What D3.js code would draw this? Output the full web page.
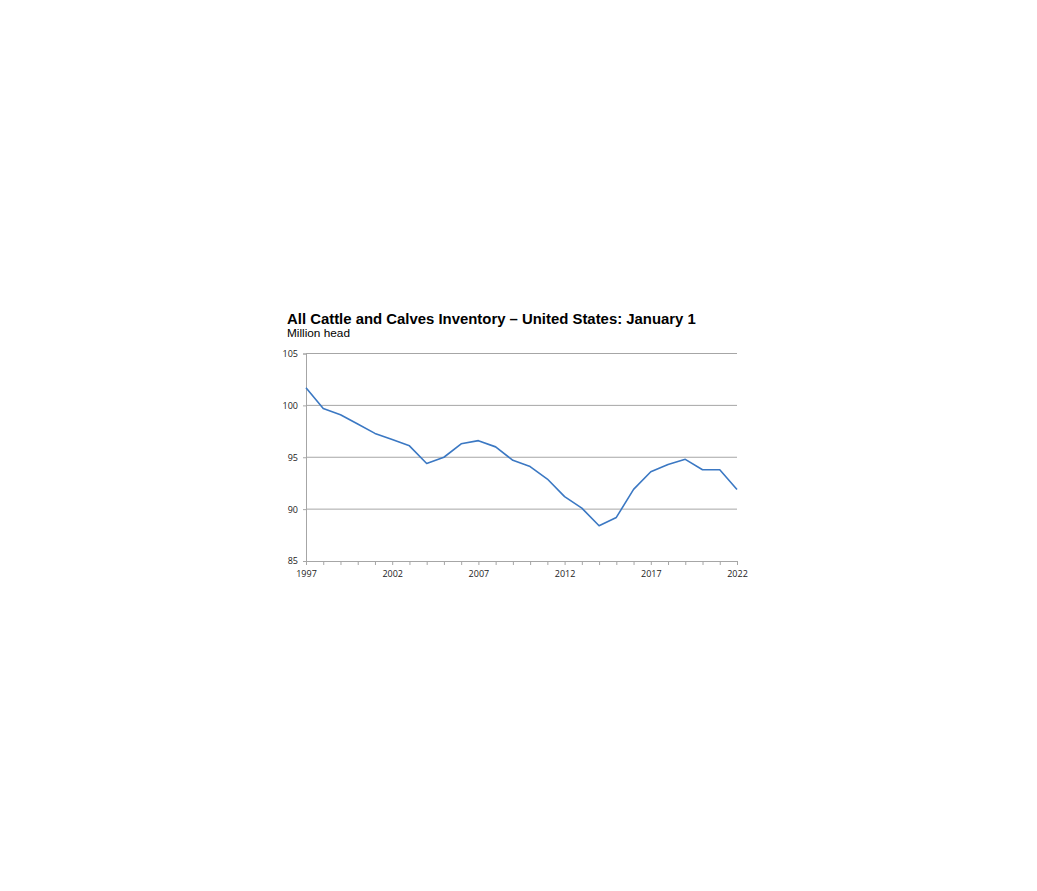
<!DOCTYPE html>
<html>
<head>
<meta charset="utf-8">
<script src="https://cdn.jsdelivr.net/npm/d3@7"></script>
<style>
  body { margin: 0; background: #fff; }
  svg { display: block; }
</style>
</head>
<body>
<div id="chart"></div>
<script>
const years = d3.range(1997, 2023);
const inventory = [101.7, 99.7, 99.1, 98.2, 97.3, 96.7, 96.1, 94.4, 95.0, 96.3,
                   96.6, 96.0, 94.7, 94.1, 92.9, 91.2, 90.1, 88.4, 89.2, 91.9,
                   93.6, 94.3, 94.8, 93.8, 93.8, 91.9];
const yTicks = [85, 90, 95, 100, 105];
const xLabelYears = [1997, 2002, 2007, 2012, 2017, 2022];

const width = 1037, height = 891;
const plotLeft = 306, plotRight = 737, plotTop = 353.5, plotBottom = 561;

const svg = d3.select("#chart").append("svg")
  .attr("width", width)
  .attr("height", height);

const x = d3.scaleLinear().domain([1997, 2022]).range([plotLeft, plotRight]);
const y = d3.scaleLinear().domain([85, 105]).range([plotBottom, plotTop]);

// title
svg.append("text")
  .attr("x", 287).attr("y", 323.5)
  .style("font", "bold 14.9px 'Liberation Sans', Arial, sans-serif")
  .attr("fill", "#000")
  .text("All Cattle and Calves Inventory \u2013 United States: January 1");

svg.append("text")
  .attr("x", 287).attr("y", 337)
  .style("font", "11.8px 'Liberation Sans', Arial, sans-serif")
  .attr("fill", "#000")
  .text("Million head");

// gridlines
svg.append("g")
  .selectAll("line")
  .data(yTicks.filter(d => d > 85))
  .join("line")
  .attr("x1", plotLeft).attr("x2", plotRight)
  .attr("y1", d => y(d)).attr("y2", d => y(d))
  .attr("stroke", "#a6a6a6")
  .attr("stroke-width", 1);

// y axis
const yAxis = svg.append("g")
  .attr("transform", `translate(${plotLeft},0)`)
  .call(d3.axisLeft(y).tickValues(yTicks).tickSize(3).tickPadding(5));
yAxis.select(".domain").attr("stroke", "#a6a6a6");
yAxis.selectAll(".tick line").attr("stroke", "#a6a6a6");
yAxis.selectAll("text")
  .style("font", "9px 'Open Sans', 'DejaVu Sans', sans-serif")
  .attr("fill", "#222");

// x axis with a tick each year, labels every 5 years
const xAxis = svg.append("g")
  .attr("transform", `translate(0,${plotBottom})`)
  .call(d3.axisBottom(x).tickValues(years).tickSize(4).tickPadding(6)
    .tickFormat(d => xLabelYears.includes(d) ? String(d) : ""));
xAxis.select(".domain").attr("stroke", "#a6a6a6");
xAxis.selectAll(".tick line").attr("stroke", "#a6a6a6");
xAxis.selectAll("text")
  .style("font", "9px 'Open Sans', 'DejaVu Sans', sans-serif")
  .attr("fill", "#222");

// series
const line = d3.line()
  .x((d, i) => x(years[i]))
  .y(d => y(d));

svg.append("path")
  .datum(inventory)
  .attr("fill", "none")
  .attr("stroke", "#3b78c3")
  .attr("stroke-width", 1.6)
  .attr("stroke-linejoin", "round")
  .attr("d", line);
</script>
</body>
</html>
